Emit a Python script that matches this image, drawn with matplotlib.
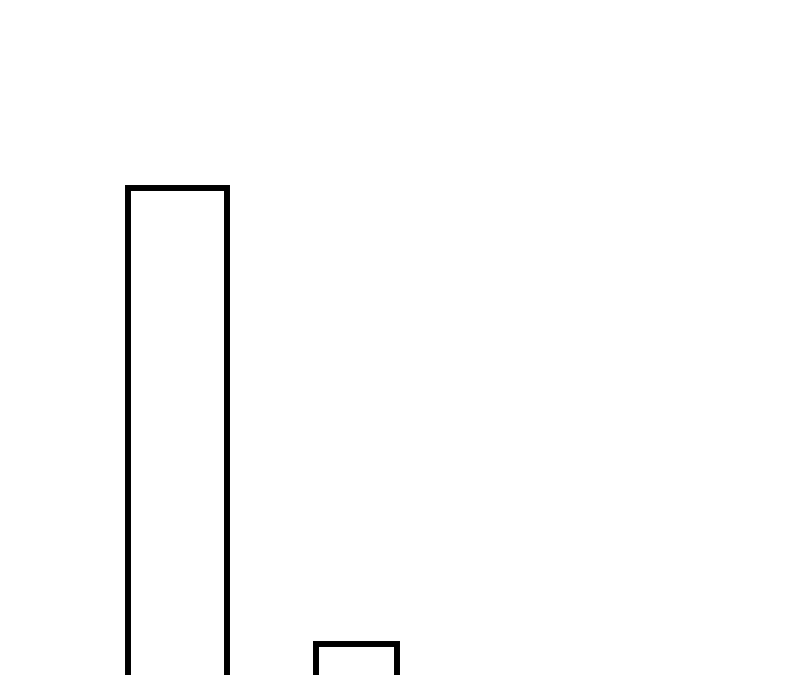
import matplotlib
matplotlib.use("Agg")
import matplotlib.pyplot as plt

# 資料
categories = ["A", "B"]
values = [100, 11]

# 樣式(寬度不同)
bar_widths = [0.553, 0.453]

fig = plt.figure(figsize=(8, 6.75), dpi=100)
ax = fig.add_axes([0, 0, 1, 1])

ax.bar(range(len(categories)), values, width=bar_widths,
       facecolor="white", edgecolor="black", linewidth=4.3)

ax.set_xlim(-0.992, 3.478)
ax.set_ylim(4.9, 136.7)
ax.axis("off")

fig.savefig("out.png", dpi=100)
